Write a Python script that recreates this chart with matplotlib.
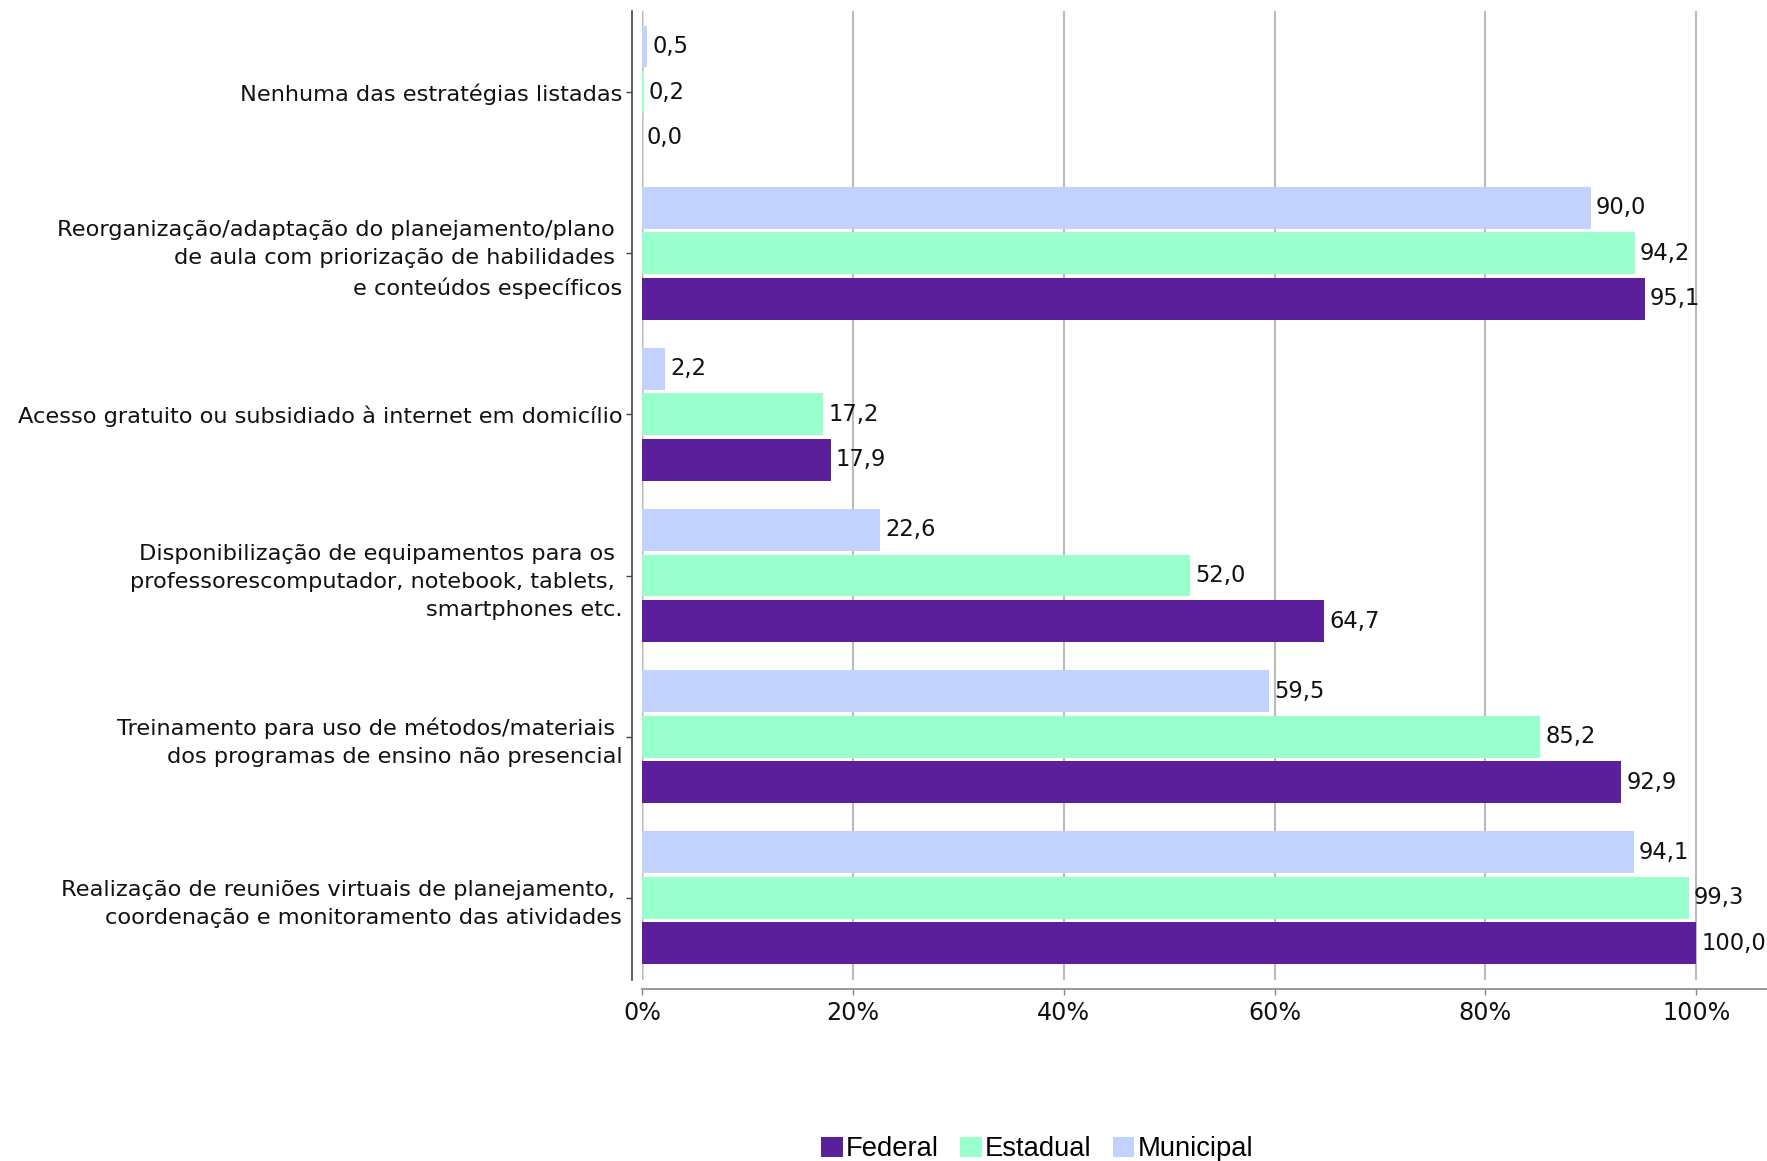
import matplotlib.pyplot as plt
import numpy as np
from matplotlib.ticker import FuncFormatter

categories = [
    "Nenhuma das estratégias listadas",
    "Reorganização/adaptação do planejamento/plano \nde aula com priorização de habilidades \ne conteúdos específicos",
    "Acesso gratuito ou subsidiado à internet em domicílio",
    "Disponibilização de equipamentos para os \nprofessorescomputador, notebook, tablets, \nsmartphones etc.",
    "Treinamento para uso de métodos/materiais \ndos programas de ensino não presencial",
    "Realização de reuniões virtuais de planejamento, \ncoordenação e monitoramento das atividades",
]
federal = [0.0, 95.1, 17.9, 64.7, 92.9, 100.0]
estadual = [0.2, 94.2, 17.2, 52.0, 85.2, 99.3]
municipal = [0.5, 90.0, 2.2, 22.6, 59.5, 94.1]

series = [
    ("Municipal", municipal, "#c2d2fc", -0.283),
    ("Estadual", estadual, "#99ffcc", 0.0),
    ("Federal", federal, "#5c1f9c", 0.283),
]

fig = plt.figure(figsize=(17.67, 11.61), dpi=100)
ax = fig.add_axes([642 / 1767, 1 - 980 / 1161, 1 - 642 / 1767, (980 - 11) / 1161])

y = np.arange(len(categories))
handles = {}
for name, vals, color, off in series:
    bars = ax.barh(y + off, vals, height=0.26, color=color, zorder=2, label=name)
    handles[name] = bars
    for yy, v in zip(y + off, vals):
        ax.annotate(
            f"{v:.1f}".replace(".", ","),
            (v, yy),
            xytext=(3.5, 0),
            textcoords="offset points",
            va="center",
            ha="left",
            fontsize=16.3,
            color="#111111",
            zorder=4,
        )

ax.set_xlim(0, 106.7)
ax.set_ylim(5.51, -0.503)
ax.set_xticks([0, 20, 40, 60, 80, 100])
ax.xaxis.set_major_formatter(FuncFormatter(lambda v, _: f"{v:.0f}%"))
ax.set_yticks(y)
ax.set_yticklabels(categories)

ax.grid(axis="x", color="#bbbbbb", linewidth=1.5, zorder=0)
ax.axvline(0, color="#555555", linewidth=1.0, zorder=1)

for s in ["top", "right"]:
    ax.spines[s].set_visible(False)
ax.spines["left"].set_position(("outward", 7.2))
ax.spines["bottom"].set_position(("outward", 6.3))
ax.spines["left"].set_color("#444444")
ax.spines["bottom"].set_color("#888888")
ax.spines["left"].set_linewidth(1.2)
ax.spines["bottom"].set_linewidth(1.2)

ax.tick_params(axis="y", length=4, width=1, color="#444444", pad=3, labelsize=16.2, labelcolor="#111111")
ax.tick_params(axis="x", length=4, width=1, color="#888888", pad=5, labelsize=17.2, labelcolor="#111111")

fig.legend(
    [handles["Federal"], handles["Estadual"], handles["Municipal"]],
    ["Federal", "Estadual", "Municipal"],
    loc="center",
    bbox_to_anchor=(0.587, 0.010),
    ncol=3,
    frameon=False,
    handlelength=0.78,
    handleheight=0.78,
    handletextpad=0.12,
    columnspacing=0.78,
    prop={"family": "Liberation Sans", "size": 19.7},
)

fig.canvas.draw()
for t in ax.get_yticklabels():
    t.set_linespacing(1.5)

plt.savefig("out.png", dpi=100)
